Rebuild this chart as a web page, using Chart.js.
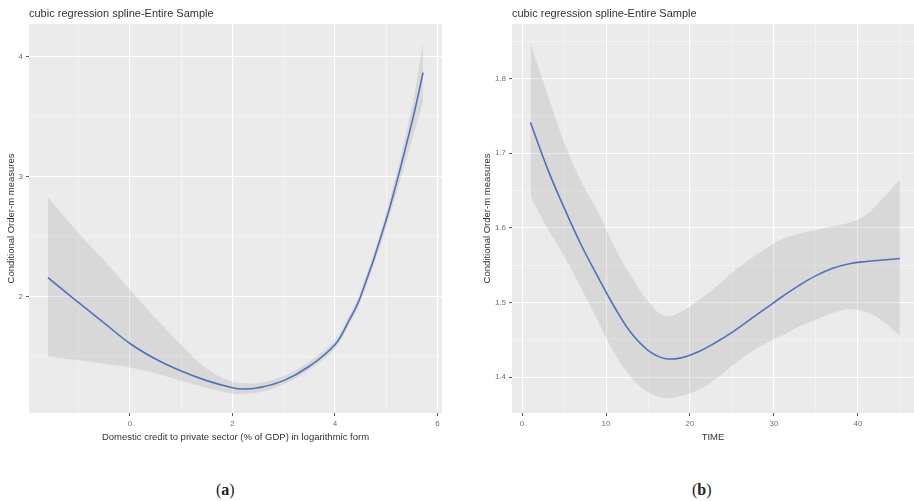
<!DOCTYPE html>
<html>
<head>
<meta charset="utf-8">
<script src="https://cdn.jsdelivr.net/npm/chart.js@4.4.1/dist/chart.umd.min.js"></script>
<style>
  body { margin: 0; background: #fff; width: 914px; height: 501px; overflow: hidden; position: relative; font-family: "Liberation Sans", Arial, sans-serif; }
  canvas { position: absolute; top: 0; }
  .tag { position: absolute; top: 481px; font: 16px "Liberation Serif", "DejaVu Serif", serif; color: #222; }
</style>
</head>
<body>
<canvas id="chartA" width="450" height="443" style="left:0"></canvas>
<canvas id="chartB" width="444" height="443" style="left:470px"></canvas>
<div class="tag" style="left:216px">(<b>a</b>)</div>
<div class="tag" style="left:692px">(<b>b</b>)</div>
<script>
// panel (a): credit (log form)
const creditX   = [-1.6, -1.0, -0.5, 0, 0.5, 1, 1.5, 2, 2.2, 2.5, 3, 3.5, 4, 4.25, 4.5, 5, 5.5, 5.72];
const creditFit = [2.16, 1.95, 1.78, 1.61, 1.48, 1.38, 1.30, 1.24, 1.23, 1.24, 1.30, 1.42, 1.60, 1.78, 2.0, 2.64, 3.45, 3.87];
const creditLo  = [1.50, 1.47, 1.44, 1.41, 1.36, 1.30, 1.24, 1.19, 1.19, 1.20, 1.27, 1.39, 1.57, 1.75, 1.96, 2.58, 3.30, 3.62];
const creditHi  = [2.83, 2.53, 2.30, 2.06, 1.82, 1.60, 1.40, 1.29, 1.28, 1.28, 1.34, 1.46, 1.64, 1.82, 2.04, 2.70, 3.58, 4.12];

// panel (b): time
const timeX   = [1, 3, 5, 7, 9, 11, 13, 15, 17, 19, 21, 23, 25, 27, 29, 31, 33, 35, 37, 39, 41, 43, 45];
const timeFit = [1.741, 1.68, 1.627, 1.578, 1.535, 1.494, 1.459, 1.436, 1.425, 1.426, 1.434, 1.446, 1.46, 1.476, 1.492, 1.508, 1.523, 1.536, 1.546, 1.552, 1.555, 1.557, 1.559];
const timeLo  = [1.642, 1.60, 1.562, 1.52, 1.476, 1.432, 1.40, 1.38, 1.372, 1.375, 1.383, 1.397, 1.415, 1.432, 1.445, 1.456, 1.468, 1.477, 1.486, 1.491, 1.487, 1.475, 1.455];
const timeHi  = [1.848, 1.78, 1.715, 1.663, 1.622, 1.575, 1.535, 1.502, 1.482, 1.488, 1.503, 1.52, 1.54, 1.557, 1.572, 1.585, 1.592, 1.597, 1.602, 1.607, 1.618, 1.64, 1.665];

const titleText = "cubic regression spline-Entire Sample";
const yTitle = "Conditional Order-m measures";

// ggplot like grey panel
const panelBg = {
  id: "panelBg",
  beforeDraw(chart) {
    const a = chart.chartArea, ctx = chart.ctx;
    ctx.save();
    ctx.fillStyle = "#ebebeb";
    ctx.fillRect(a.left, a.top, a.right - a.left, a.bottom - a.top);
    ctx.restore();
  }
};

function isMajor(v, major) {
  const q = v / major;
  return Math.abs(q - Math.round(q)) < 1e-6;
}

function axis(min, max, step, major, fmt, extra) {
  return Object.assign({
    type: "linear",
    min: min,
    max: max,
    border: { display: false },
    grid: {
      color: ctx => isMajor(ctx.tick.value, major) ? "#ffffff" : "rgba(255,255,255,0.75)",
      lineWidth: ctx => isMajor(ctx.tick.value, major) ? 1.1 : 0.55,
      tickColor: ctx => isMajor(ctx.tick.value, major) ? "#555" : "rgba(0,0,0,0)",
      tickLength: 3,
      tickWidth: 1
    },
    ticks: {
      stepSize: step,
      includeBounds: false,
      autoSkip: false,
      maxRotation: 0,
      padding: 3,
      color: "#707070",
      font: { family: "Liberation Sans", size: 8 },
      callback: v => isMajor(v, major) ? fmt(v) : ""
    }
  }, extra);
}

function makeSets(xs, fit, lo, hi) {
  const pts = ys => xs.map((x, i) => ({ x: x, y: ys[i] }));
  return [
    { data: pts(hi), borderWidth: 0, pointRadius: 0, fill: "+1", backgroundColor: "rgba(150,150,150,0.22)", tension: 0.4 },
    { data: pts(lo), borderWidth: 0, pointRadius: 0, fill: false, tension: 0.4 },
    { data: pts(fit), borderColor: "#3f65c6", borderWidth: 1.6, pointRadius: 0, fill: false, tension: 0.4 }
  ];
}

function makeChart(id, sets, xScale, yScale, pad) {
  return new Chart(document.getElementById(id), {
    type: "line",
    data: { datasets: sets },
    options: {
      responsive: false,
      animation: false,
      devicePixelRatio: 1,
      layout: { padding: pad },
      plugins: {
        legend: { display: false },
        tooltip: { enabled: false },
        title: {
          display: true,
          text: titleText,
          align: "start",
          fullSize: false,
          color: "#333",
          font: { family: "Liberation Sans", size: 11, weight: "normal" },
          padding: { top: 7, bottom: 3.8 }
        }
      },
      scales: { x: xScale, y: yScale }
    },
    plugins: [panelBg]
  });
}

// (a)
makeChart("chartA",
  makeSets(creditX, creditFit, creditLo, creditHi),
  axis(-1.97, 6.09, 1, 2, v => String(v), {
    title: { display: true, text: "Domestic credit to private sector (% of GDP) in logarithmic form", color: "#333", font: { family: "Liberation Sans", size: 9.5 }, padding: { top: 0, bottom: 0 } },
    afterFit: s => { s.height = 30; }
  }),
  axis(1.03, 4.275, 0.5, 1, v => String(v), {
    title: { display: true, text: yTitle, color: "#333", font: { family: "Liberation Sans", size: 9.5 }, padding: { top: 6, bottom: 0 } },
    afterFit: s => { s.width = 29; }
  }),
  { left: 0, right: 8, top: 0, bottom: 0 });

// (b)
makeChart("chartB",
  makeSets(timeX, timeFit, timeLo, timeHi),
  axis(-1.2, 46.67, 5, 10, v => String(v), {
    title: { display: true, text: "TIME", color: "#333", font: { family: "Liberation Sans", size: 9.5 }, padding: { top: 0, bottom: 0 } },
    afterFit: s => { s.height = 30; }
  }),
  axis(1.352, 1.873, 0.05, 0.1, v => v.toFixed(1), {
    title: { display: true, text: yTitle, color: "#333", font: { family: "Liberation Sans", size: 9.5 }, padding: { top: 12, bottom: 0 } },
    afterFit: s => { s.width = 42; }
  }),
  { left: 0, right: 0, top: 0, bottom: 0 });
</script>
</body>
</html>
